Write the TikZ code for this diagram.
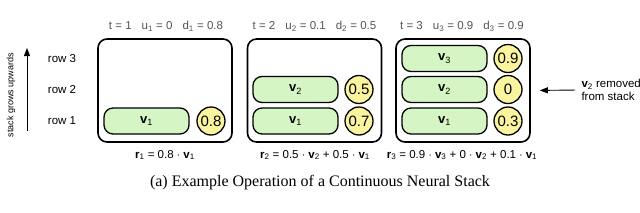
\documentclass[tikz,border=0pt]{standalone}
\usepackage{fontspec}
\setmainfont{Liberation Serif}
\setsansfont{Liberation Sans}
\usetikzlibrary{arrows.meta}
\definecolor{barfill}{RGB}{214,245,196}
\definecolor{dotfill}{RGB}{250,244,158}
\definecolor{hdrgray}{RGB}{85,85,85}
\tikzset{stackbox/.style={draw, line width=1.6pt, rounded corners=9pt, minimum width=134pt, minimum height=103pt, inner sep=0pt}}
\tikzset{vecbar/.style={draw, line width=1.3pt, fill=barfill, rounded corners=9pt, minimum width=85pt, minimum height=26pt, inner sep=0pt, font=\sffamily\bfseries\fontsize{13}{13}\selectfont}}
\tikzset{strength/.style={draw, circle, line width=1.3pt, fill=dotfill, minimum size=28pt, inner sep=0pt, font=\sffamily\fontsize{15}{15}\selectfont}}
\tikzset{lab/.style={font=\sffamily\fontsize{11.5}{13.5}\selectfont}}
\tikzset{hdr/.style={lab, text=hdrgray}}
\tikzset{pointer/.style={-{Triangle[length=8pt,width=6pt]}, line width=0.9pt}}
\newcommand{\ix}[1]{\textsubscript{\mdseries #1}}
\newcommand{\gap}{\hspace{10pt}}

\begin{document}
\begin{tikzpicture}[x=1pt,y=-1pt]
\useasboundingbox (0,0) rectangle (640,212);
% side labels
\node[lab] (row3) at (62,58.5) {row 3};
\node[lab] (row2) at (62,89.5) {row 2};
\node[lab] (row1) at (62,121) {row 1};
\coordinate (growlo) at (27,131);
\coordinate (growhi) at (27,48);
\draw[pointer] (growlo) -- (growhi);
\node[font=\sffamily\fontsize{9}{9}\selectfont, rotate=90] (growtxt) at (11,95) {stack grows upwards};
% t = 1
\node[hdr] (hdr1) at (166,26) {t = 1\gap u\ix{1} = 0\gap d\ix{1} = 0.8};
\node[stackbox] (box1) at (165,90.5) {};
\node[vecbar] (b1v1) at (146.5,121) {v\ix{1}};
\node[strength] (b1s1) at (211,121) {0.8};
\node[lab] (read1) at (165,155) {\textbf{r}\ix{1} = 0.8 $\cdot$ \textbf{v}\ix{1}};
% t = 2
\node[hdr] (hdr2) at (314.5,26) {t = 2\gap u\ix{2} = 0.1\gap d\ix{2} = 0.5};
\node[stackbox] (box2) at (314.5,90.5) {};
\node[vecbar] (b2v2) at (295.5,89.5) {v\ix{2}};
\node[strength] (b2s2) at (359,89.5) {0.5};
\node[vecbar] (b2v1) at (295.5,121) {v\ix{1}};
\node[strength] (b2s1) at (359,121) {0.7};
\node[lab] (read2) at (315,155) {\textbf{r}\ix{2} = 0.5 $\cdot$ \textbf{v}\ix{2} + 0.5 $\cdot$ \textbf{v}\ix{1}};
% t = 3
\node[hdr] (hdr3) at (462,26) {t = 3\gap u\ix{3} = 0.9\gap d\ix{3} = 0.9};
\node[stackbox] (box3) at (463,90.5) {};
\node[vecbar] (b3v3) at (444.5,58.5) {v\ix{3}};
\node[strength] (b3s3) at (508,58.5) {0.9};
\node[vecbar] (b3v2) at (444.5,89.5) {v\ix{2}};
\node[strength] (b3s2) at (508,89.5) {0};
\node[vecbar] (b3v1) at (444.5,121) {v\ix{1}};
\node[strength] (b3s1) at (508,121) {0.3};
\node[lab] (read3) at (462,155) {\textbf{r}\ix{3} = 0.9 $\cdot$ \textbf{v}\ix{3} + 0 $\cdot$ \textbf{v}\ix{2} + 0.1 $\cdot$ \textbf{v}\ix{1}};
% removed note
\node[lab, align=left, anchor=west] (remnote) at (578,90) {\textbf{v}\ix{2} removed\\from stack};
\draw[pointer, shorten <=3pt, shorten >=9pt] (remnote.west) -- (box3.east);
% caption
\node[font=\rmfamily\fontsize{16}{16}\selectfont] (caption) at (320,183) {(a) Example Operation of a Continuous Neural Stack};
\end{tikzpicture}
\end{document}
